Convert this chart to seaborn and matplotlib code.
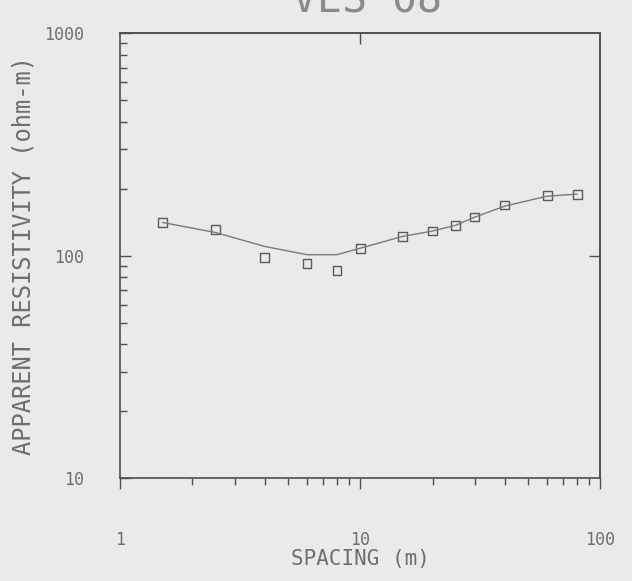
"""
VES 08 - curva de resistividade aparente (Schlumberger)
"""

import numpy as np
import pandas as pd
import matplotlib
matplotlib.use('Agg')
import matplotlib.pyplot as plt
import matplotlib.ticker as mticker
import seaborn as sns

# Dados
spacing = [1.5, 2.5, 4, 6, 8, 10, 15, 20, 25, 30, 40, 60, 80]
rho_obs = [141, 131, 98, 92, 86, 108, 122, 129, 137, 149, 169, 187, 189]
rho_model = [141, 127, 110, 101, 101, 108, 122, 129, 137, 149, 167, 185, 189]

x_ticks = [1, 10, 100]
x_ticklabels = ['1', '10', '100']
y_ticks = [10, 100, 1000]
y_ticklabels = ['10', '100', '1000']

title = 'VES 08'
xlabel = 'SPACING (m)'
ylabel = 'APPARENT RESISTIVITY (ohm-m)'

# Estilo
sns.set_style('white')
plt.rcParams['font.family'] = ['DejaVu Sans Mono', 'DejaVu Sans']

paper = '#e9eaeb'
ink = '#4f4f4f'
text_c = '#6e6e6e'

df = pd.DataFrame({'spacing': spacing, 'obs': rho_obs, 'model': rho_model})

fig = plt.figure(figsize=(6.32, 5.81), dpi=100, facecolor=paper)
ax = fig.add_axes([0.19, 0.177, 0.76, 0.766], facecolor=paper)

sns.lineplot(data=df, x='spacing', y='model', ax=ax, color='#7a7a7a',
             linewidth=1.0)
sns.scatterplot(data=df, x='spacing', y='obs', ax=ax, marker='s', s=40,
                facecolor='none', edgecolor='#5a5a5a', linewidth=1.0)

ax.set_xscale('log')
ax.set_yscale('log')
ax.set_xlim(1, 100)
ax.set_ylim(10, 1000)

# marcas menores explícitas (2..9 em cada década)
minor_x = [m * d for d in [1, 10] for m in range(2, 10)]
minor_y = [m * d for d in [10, 100] for m in range(2, 10)]

ax.set_xticks(x_ticks)
ax.set_xticklabels(x_ticklabels)
ax.set_yticks(y_ticks)
ax.set_yticklabels(y_ticklabels)
ax.xaxis.set_minor_locator(mticker.FixedLocator(minor_x))
ax.yaxis.set_minor_locator(mticker.FixedLocator(minor_y))
ax.xaxis.set_minor_formatter(mticker.NullFormatter())
ax.yaxis.set_minor_formatter(mticker.NullFormatter())

# o estilo 'white' do seaborn desliga as marcas: religar embaixo e à esquerda
ax.tick_params(axis='x', which='both', direction='out', colors=ink,
               labelcolor=text_c, labelsize=12, pad=30,
               bottom=True, top=False)
ax.tick_params(axis='x', which='major', length=8, width=1)
ax.tick_params(axis='x', which='minor', length=5, width=1)
ax.tick_params(axis='y', which='both', direction='in', colors=ink,
               labelcolor=text_c, labelsize=12, pad=26,
               left=True, right=False)
ax.tick_params(axis='y', which='major', length=8, width=1)
ax.tick_params(axis='y', which='minor', length=5, width=1)

# marcas únicas no topo e na direita (para dentro)
top = ax.secondary_xaxis('top')
top.set_xticks([10])
top.xaxis.set_minor_locator(mticker.NullLocator())
top.tick_params(direction='in', length=8, width=1, colors=ink,
                top=True, labeltop=False)
right = ax.secondary_yaxis('right')
right.set_yticks([100])
right.yaxis.set_minor_locator(mticker.NullLocator())
right.tick_params(direction='in', length=8, width=1, colors=ink,
                  right=True, labelright=False)
for sec in [top, right]:
    for sp in sec.spines.values():
        sp.set_color(ink)
        sp.set_linewidth(1.2)

for side in ['left', 'bottom', 'top', 'right']:
    ax.spines[side].set_visible(True)
    ax.spines[side].set_color(ink)
    ax.spines[side].set_linewidth(1.2)

ax.set_xlabel(xlabel, fontsize=15, color=text_c, labelpad=0)
ax.set_ylabel(ylabel, fontsize=17, color=text_c, labelpad=6)

# título parcialmente cortado no topo, como no original
fig.text(0.58, 0.979, title, fontsize=30, color='#8a8a8a', ha='center',
         va='baseline')

fig.savefig('out.png', dpi=100, facecolor=paper)
